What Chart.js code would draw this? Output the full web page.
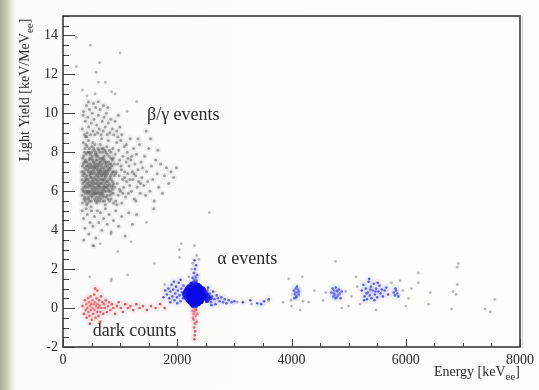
<!DOCTYPE html>
<html>
<head>
<meta charset="utf-8">
<script src="https://cdn.jsdelivr.net/npm/chart.js@4"></script>
<style>
  body {
    margin: 0;
    width: 539px;
    height: 390px;
    overflow: hidden;
    background: linear-gradient(to right, #a9b093 0px, #c9cdb6 7px, #eceee4 12px, #fbfbf9 16px, #fdfdfc 100%);
  }
  #wrap { position: relative; width: 539px; height: 390px; }
</style>
</head>
<body>
<div id="wrap"><canvas id="scatter" width="539" height="390"></canvas></div>
<script>
// energy [keV_ee], light yield [keV/MeV_ee]
const xTicks = [0, 2000, 4000, 6000, 8000];
const yTicks = [-2, 0, 2, 4, 6, 8, 10, 12, 14];

const betaGammaEvents = [
  // dense band
  [335,6.1],[352,7.4],[368,5.6],[381,8.2],[394,6.7],[402,7.9],[415,5.3],[423,6.4],[436,7.1],[447,8.6],[455,5.9],[468,6.9],[472,7.7],[488,6.2],[495,5.5],[503,8.0],[517,7.3],[526,6.6],[534,5.8],[548,7.0],[556,8.4],[563,6.0],[577,7.6],[584,6.8],[592,5.4],[607,7.2],[615,6.3],[628,8.1],[636,5.7],[645,6.9],[658,7.5],[667,6.1],[674,8.7],[689,5.9],[697,7.0],[708,6.5],[716,7.8],[729,5.5],[737,6.7],[745,7.3],[758,6.0],[766,8.3],[779,6.9],[788,5.6],[796,7.5],[808,6.4],[817,7.1],[825,5.8],[838,8.0],[846,6.6],[859,7.3],[867,6.1],[878,7.7],[886,5.4],[895,6.8],
  [328,7.0],[341,5.4],[357,8.5],[363,6.5],[377,7.2],[389,5.9],[398,6.2],[411,8.8],[419,7.5],[428,6.0],[441,5.7],[450,7.4],[462,8.2],[477,6.3],[484,7.0],[492,5.2],[509,6.5],[513,7.8],[521,8.5],[539,6.2],[544,7.5],[552,5.6],[569,6.6],[573,8.0],[581,7.3],[598,6.1],[603,5.9],[611,7.8],[622,6.7],[633,7.4],[641,5.5],[652,8.4],[663,6.4],[678,7.2],[685,6.0],[693,8.0],[704,5.8],[712,6.9],[723,7.6],[734,6.2],[741,5.3],[753,7.0],[762,6.5],[771,7.9],[783,6.3],[792,8.6],[804,6.0],[813,5.5],[821,7.4],[833,6.8],[842,7.7],[854,5.9],[862,6.5],[873,8.2],[889,7.0],
  [332,5.8],[346,6.8],[359,7.8],[372,6.0],[385,6.5],[396,7.6],[407,5.6],[418,6.8],[431,8.0],[439,6.6],[453,6.3],[466,5.5],[479,7.9],[486,6.7],[498,7.2],[506,5.7],[519,6.0],[531,7.1],[537,8.2],[546,6.4],[559,7.2],[566,5.5],[575,6.4],[589,7.9],[596,6.6],[609,5.6],[618,7.0],[626,6.0],[639,7.7],[648,6.2],[655,5.8],[669,7.3],[676,6.6],[687,7.6],[699,5.5],[706,8.2],[719,6.3],[727,7.1],[739,6.8],[748,8.0],[757,5.7],[769,6.2],[776,7.3],[787,7.0],[799,6.6],[811,8.1],[819,6.3],[829,7.2],[840,5.6],[851,6.9],[864,7.6],[871,6.3],[883,5.9],[898,7.4],
  [343,6.4],[355,7.0],[366,6.9],[379,5.7],[387,7.5],[404,6.6],[412,7.3],[425,5.9],[433,6.2],[444,7.0],[458,7.6],[464,6.5],[475,6.0],[482,7.4],[497,6.4],[508,7.0],[515,6.1],[528,7.5],[541,5.9],[551,6.7],[561,7.4],[571,6.2],[586,5.7],[594,7.1],[605,6.8],[613,6.5],[624,7.3],[631,6.3],[644,7.5],[653,6.6],[661,7.1],[672,5.9],[682,6.8],[691,7.4],[701,6.2],[714,7.2],[725,6.0],[733,7.5],[744,6.4],[755,6.8],
  [330,6.6],[348,7.7],[361,6.2],[374,8.0],[383,6.9],[391,5.5],[400,7.1],[414,6.0],[420,8.3],[429,7.3],[442,6.4],[448,5.6],[457,7.2],[467,8.0],[474,6.8],[485,5.8],[493,7.7],[501,6.7],[511,5.9],[518,7.6],[527,6.9],[535,6.5],[547,8.1],[554,7.2],[562,5.9],[572,6.9],[579,7.8],[590,6.4],[597,7.6],[606,5.5],[614,8.2],[621,6.2],[630,7.0],[638,6.4],[647,8.0],[657,7.0],[664,5.6],[673,7.7],[683,6.4],[694,6.9],[703,7.7],[711,5.7],[722,6.6],[731,8.1],[742,7.0],[752,6.2],[763,7.5],[774,5.8],[784,7.1],[797,6.1],[809,7.8],[823,6.7],[837,7.4],[849,6.2],[868,7.0],[884,6.4],
  [338,7.3],[356,6.0],[371,7.5],[388,6.3],[401,8.4],[417,6.6],[432,5.4],[445,8.0],[461,6.0],[476,7.3],[491,6.9],[507,8.3],[523,6.3],[538,7.3],[553,6.1],[567,7.9],[582,5.9],[599,7.4],[617,6.9],[634,5.9],[649,7.1],[666,6.8],[681,8.2],[698,6.6],[715,6.1],[736,6.9],[754,7.4],[778,6.5],[802,7.2],[826,6.0],
  // upper part of the band
  [338,9.2],[361,10.1],[376,8.9],[392,9.6],[409,10.4],[421,9.0],[437,9.8],[449,9.3],[463,10.2],[481,8.9],[494,9.5],[511,10.0],[524,9.1],[542,9.7],[558,8.9],[571,10.3],[587,9.4],[603,9.0],[619,9.9],[634,9.2],[651,10.2],[668,8.9],[684,9.6],[702,9.1],[721,9.8],[738,9.3],[759,10.0],[774,8.9],[795,9.5],[818,9.0],[836,9.7],[861,9.2],[887,8.9],[912,9.6],[941,9.1],[968,9.9],[995,9.3],[1030,8.9],[352,9.9],[398,8.8],[446,10.6],[533,10.5],[617,10.6],[708,10.4],[785,10.3],
  // 0.9 - 1.4 MeV
  [905,6.2],[914,7.9],[922,5.5],[931,7.0],[939,8.5],[948,6.4],[957,7.4],[966,5.8],[975,8.1],[984,6.8],[993,7.6],[1004,6.0],[1012,8.6],[1023,7.1],[1031,5.4],[1042,6.6],[1051,7.8],[1063,6.2],[1072,8.3],[1081,7.0],[1094,5.7],[1103,7.5],[1112,6.5],[1124,8.0],[1135,6.9],[1143,5.9],[1156,7.3],[1168,6.3],[1177,8.7],[1189,7.6],[1198,6.0],[1211,7.0],[1223,6.6],[1236,8.2],[1248,5.6],[1259,7.4],[1272,6.8],[1285,7.9],[1297,6.2],[1310,7.1],[1324,6.5],[1338,8.4],[1351,5.9],[1366,7.5],[1380,6.7],[1394,7.2],
  [918,6.9],[944,5.3],[961,8.8],[989,6.1],[1017,7.3],[1048,5.9],[1077,6.7],[1108,8.4],[1139,7.7],[1171,6.6],[1204,7.8],[1241,6.9],[1277,5.5],[1316,8.7],[1357,6.4],
  // high-energy tail
  [1412,6.3],[1428,7.8],[1445,5.8],[1463,7.0],[1481,6.5],[1502,8.2],[1524,6.0],[1547,7.3],[1571,6.6],[1596,5.5],[1622,7.6],[1649,6.9],[1677,6.2],[1708,7.4],[1741,5.9],[1776,6.8],[1812,7.2],[1850,6.4],[1891,7.0],[1937,6.7],[1985,7.2],[1535,8.7],[1660,8.1],[1455,9.1],[1590,5.1],
  // lower edge
  [336,5.0],[358,4.6],[384,4.1],[405,5.1],[427,4.8],[451,3.8],[474,4.4],[499,5.0],[523,4.2],[549,4.7],[574,3.6],[601,5.0],[627,4.4],[656,4.9],[681,4.0],[710,4.6],[742,5.1],[773,4.3],[806,4.8],[843,3.9],[882,4.5],[925,5.0],[972,4.2],[1026,4.7],[1087,3.7],[1150,4.9],[1216,4.3],[1290,4.8],[365,3.5],[540,3.2]
];

// sparse events away from the bands
const strayEvents = [
  [230,13.9],[480,13.5],[1000,13.1],[640,12.6],[580,12.1],[230,12.4],[740,11.6],[620,11.6],[340,11.2],[850,11.1],[910,11.0],[1290,10.6],[420,10.9],[1120,10.1],[560,11.0],
  [840,3.8],[1190,3.4],[520,3.2],[960,2.9],[840,1.4],[470,1.6],[850,1.5],[1130,1.7],[650,3.3],[1460,4.4],[2560,4.9],[2040,3.0],[2070,3.3],[2300,3.2],[2340,2.7],[2270,2.3],[2380,2.5],[2300,1.8],[2250,2.0],[2330,1.5],[2200,1.6],[2040,2.6],[1600,2.3],[1780,1.2],
  [3050,0.3],[3300,0.2],[3600,0.4],[3850,0.3],[4190,1.6],[4770,2.4],[6900,2.1],[6920,2.3],[6900,1.2],[6830,0.85],[6880,0.7],[7390,-0.05],[7560,0.45],[6800,-0.05],[6220,1.8],[6220,1.3],[6000,0.1],[6430,0.8],[4000,0.1],[4300,0.3],[4550,0.4],[5000,0.1],[5200,0.2],[5900,1.4],[3950,1.5],[4150,-0.1],[5480,-0.1],[6100,1.0],[6400,0.2],[7480,-0.2],[4880,0.0],[5130,1.6],
  [3990,0.4],[4200,0.35],[4400,0.9],[4600,0.8],[4950,0.85],[5050,0.6],[5150,1.1],[5750,1.3],[5950,0.9],[6050,0.5]
];

const darkCounts = [
  [340,0.1],[365,-0.3],[382,0.4],[396,-0.1],[408,0.2],[415,-0.5],[427,0.0],[438,0.5],[446,-0.2],[455,0.3],[463,-0.4],[471,0.1],[480,0.6],[488,-0.1],[496,0.2],[505,-0.6],[512,0.4],[520,0.0],[528,-0.3],[537,0.2],[545,0.7],[553,-0.1],[561,0.3],[570,-0.5],[578,0.1],[587,0.5],[596,-0.2],[604,0.2],[613,0.0],[622,-0.4],[631,0.4],[640,0.1],[652,-0.2],[664,0.6],[676,0.0],[689,0.3],[703,-0.3],[717,0.2],[732,0.0],[748,0.4],[766,-0.2],[785,0.1],[806,0.3],[829,-0.1],[853,0.2],[880,0.0],[910,-0.3],[942,0.1],[975,0.3],[1010,0.0],[1048,-0.2],[1090,0.2],[1135,0.0],[1180,0.1],[1230,-0.1],[1285,0.2],[1340,0.0],[1400,0.1],[1470,-0.1],[1540,0.1],[1620,0.0],[1700,0.2],[1780,0.0],
  [560,1.0],[600,0.9],[470,-0.8],[650,-0.7],
  [2300,-0.2],[2320,-0.4],[2290,-0.6],[2310,-0.8],[2295,-1.0],[2315,-1.2],[2305,-1.4],[2300,-1.6],[2285,-0.3],[2330,-0.1],[2275,-0.5],[2340,-0.7],[2310,-0.1],[2270,-0.15],[2350,-0.3]
];

// 2.3 MeV alpha peak
const alphaPeak = [
  [2250,1.25],[2290,1.2],[2330,1.22],[2370,1.18],[2310,1.3],
  [2200,1.1],[2240,1.08],[2280,1.12],[2320,1.1],[2360,1.06],[2400,1.1],[2265,1.15],[2345,1.14],
  [2170,1.0],[2210,0.98],[2250,1.02],[2290,1.0],[2330,0.97],[2370,1.03],[2410,0.99],[2450,1.0],
  [2150,0.9],[2190,0.88],[2230,0.92],[2270,0.9],[2310,0.87],[2350,0.93],[2390,0.9],[2430,0.88],[2470,0.91],
  [2130,0.8],[2170,0.78],[2210,0.82],[2250,0.8],[2290,0.79],[2330,0.81],[2370,0.8],[2410,0.78],[2450,0.82],[2490,0.8],
  [2120,0.7],[2160,0.68],[2200,0.72],[2240,0.7],[2280,0.69],[2320,0.71],[2360,0.7],[2400,0.68],[2440,0.72],[2480,0.7],[2520,0.69],
  [2140,0.6],[2180,0.58],[2220,0.62],[2260,0.6],[2300,0.59],[2340,0.61],[2380,0.6],[2420,0.58],[2460,0.62],[2500,0.6],[2550,0.58],
  [2160,0.5],[2200,0.48],[2240,0.52],[2280,0.5],[2320,0.49],[2360,0.51],[2400,0.5],[2440,0.48],[2490,0.52],[2580,0.5],
  [2190,0.4],[2230,0.38],[2270,0.42],[2310,0.4],[2350,0.39],[2390,0.41],[2430,0.4],[2520,0.38],
  [2220,0.3],[2260,0.28],[2300,0.32],[2340,0.3],[2380,0.29],[2420,0.31],
  [2250,0.2],[2290,0.18],[2330,0.22],[2370,0.2],
  [2280,0.1],[2320,0.08]
];

const alphaEvents = [
  [1820,0.7],[1845,1.0],[1860,0.5],[1880,0.85],[1900,1.2],[1915,0.6],[1930,0.95],[1950,0.4],[1965,0.75],[1980,1.1],[1995,0.55],[2010,0.9],[2025,1.3],[2040,0.65],[2055,0.35],[2070,1.0],[2085,0.8],[2100,0.5],[2110,1.15],[1790,0.9],[1760,0.55],[1880,0.3],[2000,0.25],[2060,1.45],[1940,1.35],
  [2530,0.9],[2550,0.4],[2570,0.75],[2590,0.3],[2610,0.6],[2630,0.85],[2650,0.45],[2670,0.2],[2690,0.65],[2710,0.5],[2740,0.35],[2770,0.55],[2800,0.3],[2830,0.45],[2860,0.25],[2900,0.4],[2950,0.3],[3000,0.35],[2540,1.05],[2600,0.15],
  [3150,0.3],[3280,0.4],[3400,0.25],[3520,0.35],[3600,0.45],[3470,0.2],
  [2300,1.45],[2320,1.6],[2290,1.8],[2310,2.0],[2330,2.2],[2300,2.45],[2270,1.55],[2350,1.7],[2280,1.35],[2340,1.4],
  [4040,0.9],[4060,0.7],[4075,1.0],[4090,0.6],[4100,0.8],[4115,0.95],[4080,0.55],[4125,0.7],[4050,0.5],[4095,1.1],[4130,0.85],[4070,0.8],
  [4700,0.8],[4720,1.0],[4735,0.6],[4750,0.9],[4760,0.7],[4775,1.05],[4790,0.55],[4800,0.85],[4815,0.65],[4830,0.95],[4845,0.75],[4860,0.5],[4880,0.85],[4740,0.75],[4810,0.9],[4770,0.5],
  [5230,0.9],[5260,1.2],[5280,0.6],[5300,1.0],[5320,0.45],[5340,0.8],[5350,1.35],[5370,0.65],[5390,1.1],[5400,0.5],[5420,0.9],[5440,1.25],[5460,0.7],[5480,1.0],[5500,0.55],[5520,0.85],[5540,1.15],[5560,0.75],[5580,0.95],[5600,0.6],[5630,0.9],[5660,1.05],[5690,0.7],[5310,0.75],[5380,0.95],[5450,0.4],[5510,1.3],[5270,0.4],[5360,1.5],[5470,0.85],
  [5790,0.8],[5810,0.65],[5830,0.9],[5850,0.75],[5870,0.6],[5820,1.0]
];

const regionLabels = [
  { text: 'β/γ events', x: 1470, y: 9.9 },
  { text: 'α events', x: 2700, y: 2.5 },
  { text: 'dark counts', x: 520, y: -1.2 }
];

const toXY = arr => arr.map(p => ({ x: p[0], y: p[1] }));
const serif = '"Liberation Serif", "DejaVu Serif", serif';
const ink = '#2b2b2b';

// inward ticks, box frame, axis titles and region labels
const decorations = {
  id: 'decorations',
  afterDatasetsDraw(chart) {
    const { ctx, chartArea: a, scales: { x, y } } = chart;
    ctx.save();
    ctx.strokeStyle = '#444';
    ctx.lineWidth = 1;
    ctx.beginPath();
    for (let v = -2; v <= 15; v += 0.5) {
      const py = Math.round(y.getPixelForValue(v)) + 0.5;
      const len = (v % 2 === 0) ? 12 : 6;
      ctx.moveTo(a.left, py); ctx.lineTo(a.left + len, py);
    }
    for (let v = 0; v <= 8000; v += 500) {
      const px = Math.round(x.getPixelForValue(v)) + 0.5;
      const len = (v % 2000 === 0) ? 8 : 4;
      ctx.moveTo(px, a.bottom); ctx.lineTo(px, a.bottom - len);
    }
    ctx.stroke();

    ctx.lineWidth = 1.6;
    ctx.strokeStyle = '#3a3a3a';
    ctx.strokeRect(a.left, a.top, a.right - a.left, a.bottom - a.top);
    ctx.strokeStyle = 'rgba(120,120,120,0.35)';
    ctx.lineWidth = 1;
    ctx.beginPath();
    ctx.moveTo(a.right + 2.5, a.top); ctx.lineTo(a.right + 2.5, a.bottom + 2);
    ctx.stroke();

    ctx.fillStyle = ink;
    ctx.textBaseline = 'middle';
    ctx.font = '18px ' + serif;
    regionLabels.forEach(l => {
      ctx.fillText(l.text, x.getPixelForValue(l.x), y.getPixelForValue(l.y));
    });

    // x title with subscript
    const sub = '11px ' + serif, main = '14px ' + serif;
    ctx.font = main;
    const w1 = ctx.measureText('Energy [keV').width;
    const w3 = ctx.measureText(']').width;
    ctx.font = sub;
    const w2 = ctx.measureText('ee').width;
    let tx = a.right - (w1 + w2 + w3), ty = 372;
    ctx.font = main; ctx.fillText('Energy [keV', tx, ty);
    ctx.font = sub; ctx.fillText('ee', tx + w1, ty + 5);
    ctx.font = main; ctx.fillText(']', tx + w1 + w2, ty);

    // y title, rotated
    ctx.save();
    ctx.translate(25, 90);
    ctx.rotate(-Math.PI / 2);
    ctx.font = main;
    const v1 = ctx.measureText('Light Yield [keV/MeV').width;
    ctx.font = sub;
    const v2 = ctx.measureText('ee').width;
    ctx.font = main;
    const total = v1 + v2 + ctx.measureText(']').width;
    const sx = -total / 2;
    ctx.fillText('Light Yield [keV/MeV', sx, 0);
    ctx.font = sub; ctx.fillText('ee', sx + v1, 5);
    ctx.font = main; ctx.fillText(']', sx + v1 + v2, 0);
    ctx.restore();

    ctx.restore();
  }
};

new Chart(document.getElementById('scatter'), {
  type: 'scatter',
  data: {
    datasets: [
      {
        // soft haze under the beta/gamma band
        data: toXY(betaGammaEvents),
        pointRadius: 3.5,
        pointBorderWidth: 0,
        backgroundColor: 'rgba(110,110,110,0.07)'
      },
      {
        data: toXY(betaGammaEvents),
        pointRadius: 1.5,
        pointBorderWidth: 0,
        backgroundColor: 'rgba(75,75,75,0.5)'
      },
      {
        data: toXY(strayEvents),
        pointRadius: 1.4,
        pointBorderWidth: 0,
        backgroundColor: 'rgba(125,125,125,0.55)'
      },
      {
        // faint halo around the dark counts
        data: toXY(darkCounts),
        pointRadius: 4,
        pointBorderWidth: 0,
        backgroundColor: 'rgba(255,170,180,0.12)'
      },
      {
        data: toXY(darkCounts),
        pointRadius: 1.3,
        pointBorderWidth: 0,
        backgroundColor: 'rgba(220,30,40,0.85)'
      },
      {
        data: toXY(alphaEvents),
        pointRadius: 4,
        pointBorderWidth: 0,
        backgroundColor: 'rgba(150,160,255,0.10)'
      },
      {
        data: toXY(alphaEvents),
        pointRadius: 1.3,
        pointBorderWidth: 0,
        backgroundColor: 'rgba(30,30,210,0.8)'
      },
      {
        data: toXY(alphaPeak),
        pointRadius: 2.3,
        pointBorderWidth: 0,
        backgroundColor: '#0a0ae6'
      }
    ]
  },
  options: {
    responsive: false,
    animation: false,
    events: [],
    layout: { padding: { top: 16, right: 16, left: 0, bottom: 0 } },
    plugins: { legend: { display: false }, tooltip: { enabled: false } },
    scales: {
      x: {
        type: 'linear',
        min: 0,
        max: 8000,
        afterFit(s) { s.height = 43; },
        afterBuildTicks(s) { s.ticks = xTicks.map(v => ({ value: v })); },
        grid: { display: false, drawTicks: false },
        border: { display: false },
        ticks: {
          padding: 5,
          color: ink,
          maxRotation: 0,
          font: { family: serif, size: 14 },
          callback: v => String(v)
        }
      },
      y: {
        type: 'linear',
        min: -2,
        max: 15,
        afterFit(s) { s.width = 63; },
        afterBuildTicks(s) { s.ticks = yTicks.map(v => ({ value: v })); },
        grid: { display: false, drawTicks: false },
        border: { display: false },
        ticks: {
          padding: 5,
          color: ink,
          font: { family: serif, size: 14 },
          callback: v => String(v)
        }
      }
    }
  },
  plugins: [decorations]
});
</script>
</body>
</html>
